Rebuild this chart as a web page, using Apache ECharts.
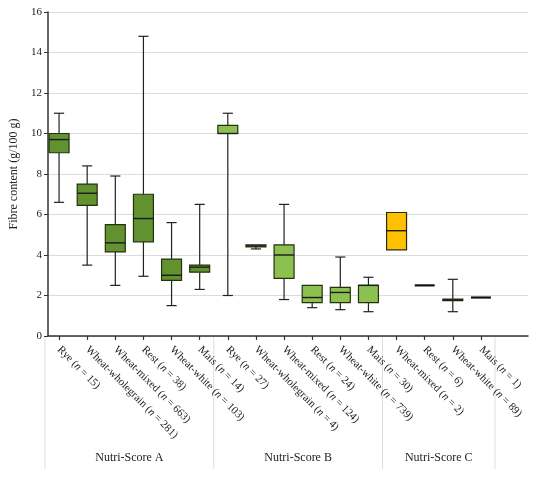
<!DOCTYPE html>
<html>
<head>
<meta charset="utf-8">
<script src="https://cdn.jsdelivr.net/npm/echarts@6/dist/echarts.min.js"></script>
<style>
html,body{margin:0;padding:0;background:#fff;}
#chart{width:550px;height:477px;}
</style>
</head>
<body>
<div id="chart"></div>
<script>
// ---- data ----
var categories = ['Rye','Wheat-wholegrain','Wheat-mixed','Rest','Wheat-white','Mais',
                  'Rye','Wheat-wholegrain','Wheat-mixed','Rest','Wheat-white','Mais',
                  'Wheat-mixed','Rest','Wheat-white','Mais'];
var nValues   = [15, 281, 663, 38, 103, 14, 27, 4, 124, 24, 739, 30, 2, 6, 89, 1];
var groupIdx  = [0,0,0,0,0,0, 1,1,1,1,1,1, 2,2,2,2];
var groupNames = ['Nutri-Score A','Nutri-Score B','Nutri-Score C'];
var lowValues    = [6.6, 3.5, 2.5, 2.95, 1.5, 2.3,  2.0, 4.3, 1.8, 1.4, 1.3, 1.2,  4.25, 2.5, 1.2, 1.9];
var q1Values     = [9.05,6.45,4.15,4.65, 2.75,3.15, 10.0,4.4, 2.85,1.65,1.65,1.65, 4.25, 2.5, 1.75,1.9];
var medianValues = [9.7, 7.05,4.6, 5.8,  3.0, 3.4,  10.0,4.45,4.0, 1.9, 2.15,2.5,  5.2,  2.5, 1.78,1.9];
var q3Values     = [10.0,7.5, 5.5, 7.0,  3.8, 3.5,  10.4,4.5, 4.5, 2.5, 2.4, 2.5,  6.1,  2.5, 1.82,1.9];
var highValues   = [11.0,8.4, 7.9, 14.8, 5.6, 6.5,  11.0,4.5, 6.5, 2.5, 3.9, 2.9,  6.1,  2.5, 2.8, 1.9];
var yTicks = [0, 2, 4, 6, 8, 10, 12, 14, 16];
var groupColors = ['#629130', '#8cc152', '#ffc000'];

var seriesData = categories.map(function (c, i) {
  return [i, lowValues[i], q1Values[i], medianValues[i], q3Values[i], highValues[i], groupIdx[i]];
});
var labelTexts = categories.map(function (c, i) {
  return c + ' ({it|n} = ' + nValues[i] + ')';
});

var FONT = 'Liberation Serif';
var chart = echarts.init(document.getElementById('chart'));

function renderBox(params, api) {
  var idx = api.value(0);
  var lo = api.value(1), q1 = api.value(2), med = api.value(3), q3 = api.value(4), hi = api.value(5);
  var g = api.value(6);
  var bw = api.size([1, 0])[0];
  var boxW = bw * 0.71, capW = bw * 0.36;
  var x = api.coord([idx, med])[0];
  var yLo = api.coord([idx, lo])[1], yQ1 = api.coord([idx, q1])[1], yMed = api.coord([idx, med])[1];
  var yQ3 = api.coord([idx, q3])[1], yHi = api.coord([idx, hi])[1];
  var lineStyle = {stroke: '#222', lineWidth: 1.2};
  var ch = [];
  if (hi > q3) {
    ch.push({type: 'line', shape: {x1: x, y1: yQ3, x2: x, y2: yHi}, style: lineStyle});
    ch.push({type: 'line', shape: {x1: x - capW / 2, y1: yHi, x2: x + capW / 2, y2: yHi}, style: lineStyle});
  }
  if (lo < q1) {
    ch.push({type: 'line', shape: {x1: x, y1: yQ1, x2: x, y2: yLo}, style: lineStyle});
    ch.push({type: 'line', shape: {x1: x - capW / 2, y1: yLo, x2: x + capW / 2, y2: yLo}, style: lineStyle});
  }
  var h = yQ1 - yQ3;
  if (h > 0.5) {
    ch.push({type: 'rect', shape: {x: x - boxW / 2, y: yQ3, width: boxW, height: h},
      style: {fill: groupColors[g], stroke: '#25300f', lineWidth: 1.2}});
    ch.push({type: 'line', shape: {x1: x - boxW / 2, y1: yMed, x2: x + boxW / 2, y2: yMed},
      style: {stroke: '#1a1a1a', lineWidth: 1.4}});
  } else {
    ch.push({type: 'line', shape: {x1: x - boxW / 2, y1: yMed, x2: x + boxW / 2, y2: yMed},
      style: {stroke: '#111', lineWidth: 2.2}});
  }
  return {type: 'group', children: ch};
}

var option = {
  animation: false,
  backgroundColor: '#fff',
  grid: [
    {left: 42, right: 22, top: 12, bottom: 141},
    {left: 45, width: 450, top: 12, bottom: 141}
  ],
  xAxis: [
    {gridIndex: 0, type: 'value', min: 0, max: 1, axisLabel: {show: false}, axisTick: {show: false},
      splitLine: {show: false}, axisLine: {show: true, lineStyle: {color: '#333', width: 1.5}}},
    {gridIndex: 1, type: 'category', data: labelTexts, boundaryGap: true,
      axisLine: {show: false},
      axisTick: {show: true, alignWithLabel: true, length: 4, lineStyle: {color: '#333', width: 1.2}},
      axisLabel: {interval: 0, rotate: -45, margin: 12, fontFamily: FONT, fontSize: 11, color: '#222',
        rich: {it: {fontStyle: 'italic', fontFamily: FONT, fontSize: 11, color: '#222'}}},
      splitLine: {show: false}}
  ],
  yAxis: [
    {gridIndex: 0, type: 'value', min: yTicks[0], max: yTicks[yTicks.length - 1], interval: 2,
      name: 'Fibre content (g/100 g)', nameLocation: 'middle', nameGap: 28,
      nameTextStyle: {fontFamily: FONT, fontSize: 12, color: '#222'},
      axisLine: {show: true, lineStyle: {color: '#333', width: 1.5}},
      axisTick: {show: true, length: 4, lineStyle: {color: '#333'}},
      axisLabel: {fontFamily: FONT, fontSize: 11, color: '#222', margin: 6},
      splitLine: {show: true, lineStyle: {color: '#dcdcdc', width: 1}}},
    {gridIndex: 1, type: 'value', min: yTicks[0], max: yTicks[yTicks.length - 1], show: false}
  ],
  series: [
    {type: 'custom', xAxisIndex: 1, yAxisIndex: 1, renderItem: renderBox, data: seriesData,
      encode: {x: 0, y: [1, 2, 3, 4, 5]}}
  ]
};
chart.setOption(option);

// group separators and group labels placed through the category axis scale
function buildGroups() {
  var px = function (i) { return chart.convertToPixel({xAxisIndex: 1}, i); };
  var band = px(1) - px(0);
  var y0 = chart.convertToPixel({yAxisIndex: 1}, 0);
  var bounds = [];
  for (var i = 0; i < categories.length; i++) {
    if (i === 0 || groupIdx[i] !== groupIdx[i - 1]) bounds.push({g: groupIdx[i], start: i});
  }
  var els = [];
  var edges = [];
  bounds.forEach(function (b, k) {
    var end = k < bounds.length - 1 ? bounds[k + 1].start - 1 : categories.length - 1;
    var xs = px(b.start) - band / 2, xe = px(end) + band / 2;
    edges.push(xs);
    if (k === bounds.length - 1) edges.push(xe);
    els.push({type: 'text', x: (xs + xe) / 2, y: y0 + 122,
      style: {text: groupNames[b.g], fontFamily: FONT, fontSize: 12, fill: '#222', align: 'center', verticalAlign: 'middle'}});
  });
  edges.forEach(function (ex) {
    els.push({type: 'line', shape: {x1: ex, y1: y0, x2: ex, y2: y0 + 133}, style: {stroke: '#dddddd', lineWidth: 1}});
  });
  chart.setOption({graphic: els});
}
buildGroups();
</script>
</body>
</html>
